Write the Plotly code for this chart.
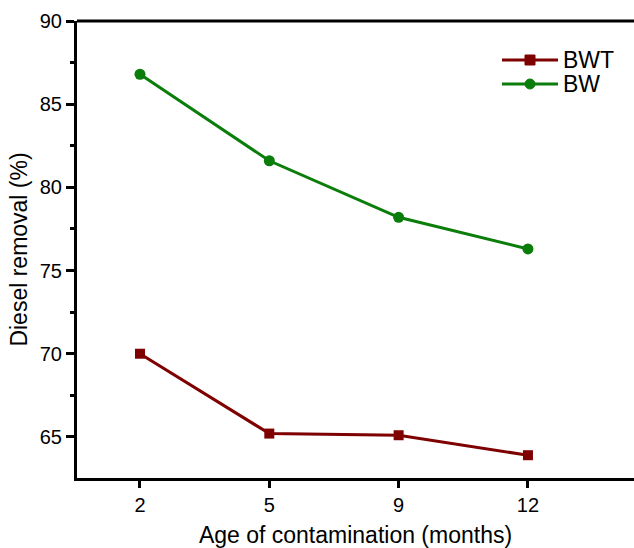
import plotly.graph_objects as go

categories = ["2", "5", "9", "12"]
bwt = [70.0, 65.2, 65.1, 63.9]
bw = [86.8, 81.6, 78.2, 76.3]
series_names = ["BWT", "BW"]

W, H = 634, 548
ml, mr, mt, mb = 77, 0, 21, 70
pw, ph = W - ml - mr, H - mt - mb

red = "#7f0000"
green = "#0a7d0a"

fig = go.Figure()
fig.add_trace(go.Scatter(x=categories, y=bwt, name=series_names[0], mode="lines+markers",
                         line=dict(color=red, width=3),
                         marker=dict(symbol="square", size=10, color=red)))
fig.add_trace(go.Scatter(x=categories, y=bw, name=series_names[1], mode="lines+markers",
                         line=dict(color=green, width=3),
                         marker=dict(symbol="circle", size=11, color=green)))

font = "Arial, Liberation Sans, sans-serif"

def px2x(px):
    return (px - ml) / pw

def px2y(py):
    return (H - mb - py) / ph

shapes = [dict(type="line", xref="paper", yref="paper", x0=0, x1=1, y0=1, y1=1,
               line=dict(color="black", width=3))]
annotations = []
legend_items = [(series_names[0], red, "rect", 60), (series_names[1], green, "circle", 84)]
for name, col, kind, py in legend_items:
    shapes.append(dict(type="line", xref="paper", yref="paper",
                       x0=px2x(502), x1=px2x(558), y0=px2y(py), y1=px2y(py),
                       line=dict(color=col, width=3)))
    r = 5
    shapes.append(dict(type=kind, xref="paper", yref="paper",
                       x0=px2x(530 - r), x1=px2x(530 + r), y0=px2y(py + r), y1=px2y(py - r),
                       fillcolor=col, line=dict(color=col, width=1)))
    annotations.append(dict(xref="paper", yref="paper", x=px2x(561), y=px2y(py),
                            xanchor="left", yanchor="middle", text=name, showarrow=False,
                            font=dict(size=23, family=font, color="black")))

fig.update_layout(
    width=W, height=H,
    margin=dict(l=ml, r=mr, t=mt, b=mb, pad=0),
    plot_bgcolor="white", paper_bgcolor="white",
    font=dict(family=font, color="black", size=20),
    showlegend=False,
    shapes=shapes,
    annotations=annotations,
    xaxis=dict(type="category", range=[-0.487, 3.82],
               showline=True, linecolor="black", linewidth=3, mirror=False,
               ticks="outside", ticklen=7, tickwidth=3, tickcolor="black",
               showgrid=False, zeroline=False,
               tickfont=dict(size=20),
               title=dict(text="Age of contamination (months)", font=dict(size=23), standoff=14)),
    yaxis=dict(range=[62.53, 90.0], tickvals=[65, 70, 75, 80, 85, 90],
               showline=True, linecolor="black", linewidth=3, mirror=False,
               ticks="outside", ticklen=8, tickwidth=3, tickcolor="black",
               minor=dict(tickvals=[62.5, 67.5, 72.5, 77.5, 82.5, 87.5], ticks="outside",
                          ticklen=4, tickwidth=3, tickcolor="black", showgrid=False),
               showgrid=False, zeroline=False,
               tickfont=dict(size=20),
               title=dict(text="Diesel removal (%)", font=dict(size=23), standoff=6)),
)

fig.write_html("out.html")
